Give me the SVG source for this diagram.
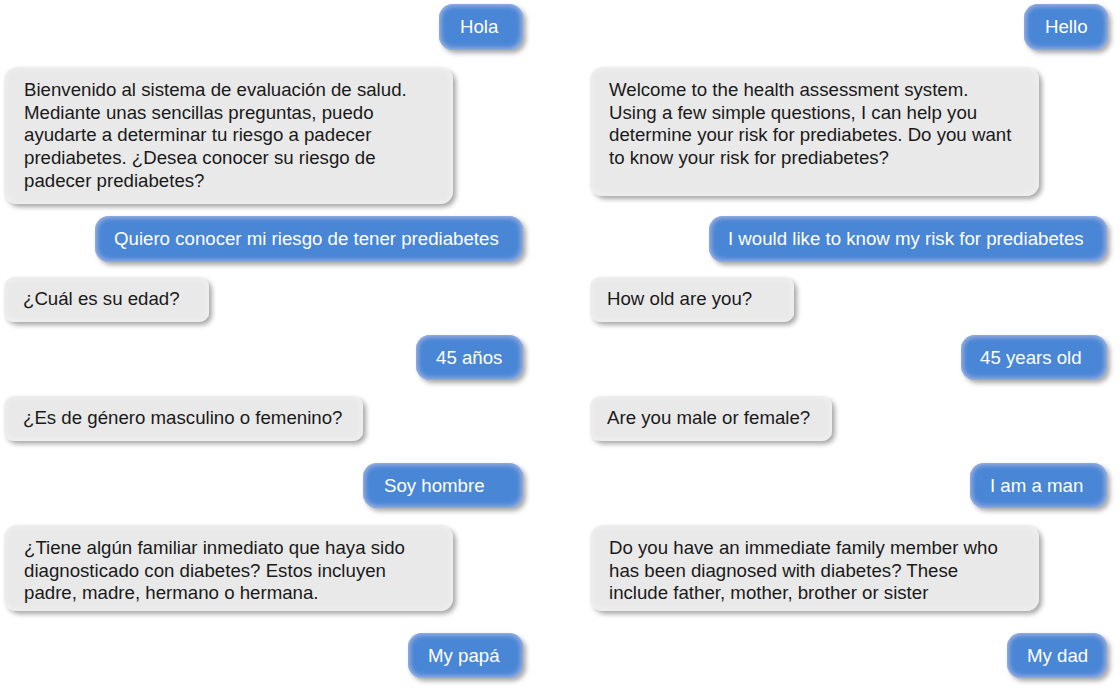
<svg xmlns="http://www.w3.org/2000/svg" width="1120" height="692" viewBox="0 0 1120 692">
<defs>
<filter id="bub" x="-10%" y="-30%" width="125%" height="170%">
  <feGaussianBlur in="SourceAlpha" stdDeviation="3" result="blurA"/>
  <feComposite in="SourceAlpha" in2="blurA" operator="arithmetic" k2="1" k3="-1" result="rimA"/>
  <feFlood flood-color="#ffffff" flood-opacity="0.45"/>
  <feComposite in2="rimA" operator="in" result="rim"/>
  <feOffset in="SourceAlpha" dx="3" dy="3"/>
  <feGaussianBlur stdDeviation="2.5"/>
  <feComponentTransfer><feFuncA type="linear" slope="0.35"/></feComponentTransfer>
  <feMerge><feMergeNode/><feMergeNode in="SourceGraphic"/><feMergeNode in="rim"/></feMerge>
</filter>
</defs>
<style>
.u{fill:#4a86d6;filter:url(#bub)}
.b{fill:#e9e9e9;filter:url(#bub)}
text{font-family:"Liberation Sans",Arial,sans-serif;font-size:18.67px}
.ut{fill:#ffffff}
.bt{fill:#1a1a1a}
</style>
<rect width="1120" height="692" fill="#ffffff"/>
<g id="connectors"/>
<g id="es">
<g id="es-hola"><rect class="u" x="439" y="4" width="84" height="46" rx="14"/><text class="ut" x="460" y="33">Hola</text></g>
<g id="es-welcome"><rect class="b" x="4" y="67" width="449" height="137" rx="13"/><text class="bt" x="24" y="96">Bienvenido al sistema de evaluación de salud.</text><text class="bt" x="24" y="118.7">Mediante unas sencillas preguntas, puedo</text><text class="bt" x="24" y="141.4">ayudarte a determinar tu riesgo a padecer</text><text class="bt" x="24" y="164.1">prediabetes. ¿Desea conocer su riesgo de</text><text class="bt" x="24" y="186.8">padecer prediabetes?</text></g>
<g id="es-quiero"><rect class="u" x="95" y="216" width="428" height="46" rx="14"/><text class="ut" x="114" y="245">Quiero conocer mi riesgo de tener prediabetes</text></g>
<g id="es-edad"><rect class="b" x="4" y="277" width="205" height="45" rx="10"/><text class="bt" x="23" y="305">¿Cuál es su edad?</text></g>
<g id="es-45"><rect class="u" x="416" y="335" width="107" height="45" rx="14"/><text class="ut" x="436" y="363.5">45 años</text></g>
<g id="es-genero"><rect class="b" x="4" y="396" width="359" height="45" rx="10"/><text class="bt" x="23" y="424">¿Es de género masculino o femenino?</text></g>
<g id="es-hombre"><rect class="u" x="363" y="463" width="160" height="45" rx="14"/><text class="ut" x="384" y="491.5">Soy hombre</text></g>
<g id="es-familiar"><rect class="b" x="4" y="525" width="449" height="86" rx="13"/><text class="bt" x="24" y="554">¿Tiene algún familiar inmediato que haya sido</text><text class="bt" x="24" y="576.7">diagnosticado con diabetes? Estos incluyen</text><text class="bt" x="24" y="599.4">padre, madre, hermano o hermana.</text></g>
<g id="es-papa"><rect class="u" x="408" y="633" width="115" height="45" rx="14"/><text class="ut" x="428" y="661.5">My papá</text></g>
</g>
<g id="en">
<g id="en-hello"><rect class="u" x="1024" y="4" width="84" height="46" rx="14"/><text class="ut" x="1045" y="33">Hello</text></g>
<g id="en-welcome"><rect class="b" x="590" y="67" width="449" height="129" rx="13"/><text class="bt" x="609" y="96">Welcome to the health assessment system.</text><text class="bt" x="609" y="118.7">Using a few simple questions, I can help you</text><text class="bt" x="609" y="141.4">determine your risk for prediabetes. Do you want</text><text class="bt" x="609" y="164.1">to know your risk for prediabetes?</text></g>
<g id="en-would"><rect class="u" x="709" y="216" width="398" height="46" rx="14"/><text class="ut" x="728" y="245">I would like to know my risk for prediabetes</text></g>
<g id="en-old"><rect class="b" x="590" y="277" width="204" height="45" rx="10"/><text class="bt" x="607" y="305">How old are you?</text></g>
<g id="en-45"><rect class="u" x="961" y="335" width="146" height="45" rx="14"/><text class="ut" x="980" y="363.5">45 years old</text></g>
<g id="en-gender"><rect class="b" x="590" y="396" width="242" height="45" rx="10"/><text class="bt" x="607" y="424">Are you male or female?</text></g>
<g id="en-man"><rect class="u" x="970" y="463" width="137" height="45" rx="14"/><text class="ut" x="990" y="491.5">I am a man</text></g>
<g id="en-family"><rect class="b" x="590" y="525" width="449" height="86" rx="13"/><text class="bt" x="609" y="554">Do you have an immediate family member who</text><text class="bt" x="609" y="576.7">has been diagnosed with diabetes? These</text><text class="bt" x="609" y="599.4">include father, mother, brother or sister</text></g>
<g id="en-dad"><rect class="u" x="1007" y="633" width="100" height="45" rx="14"/><text class="ut" x="1027" y="661.5">My dad</text></g>
</g>
</svg>
